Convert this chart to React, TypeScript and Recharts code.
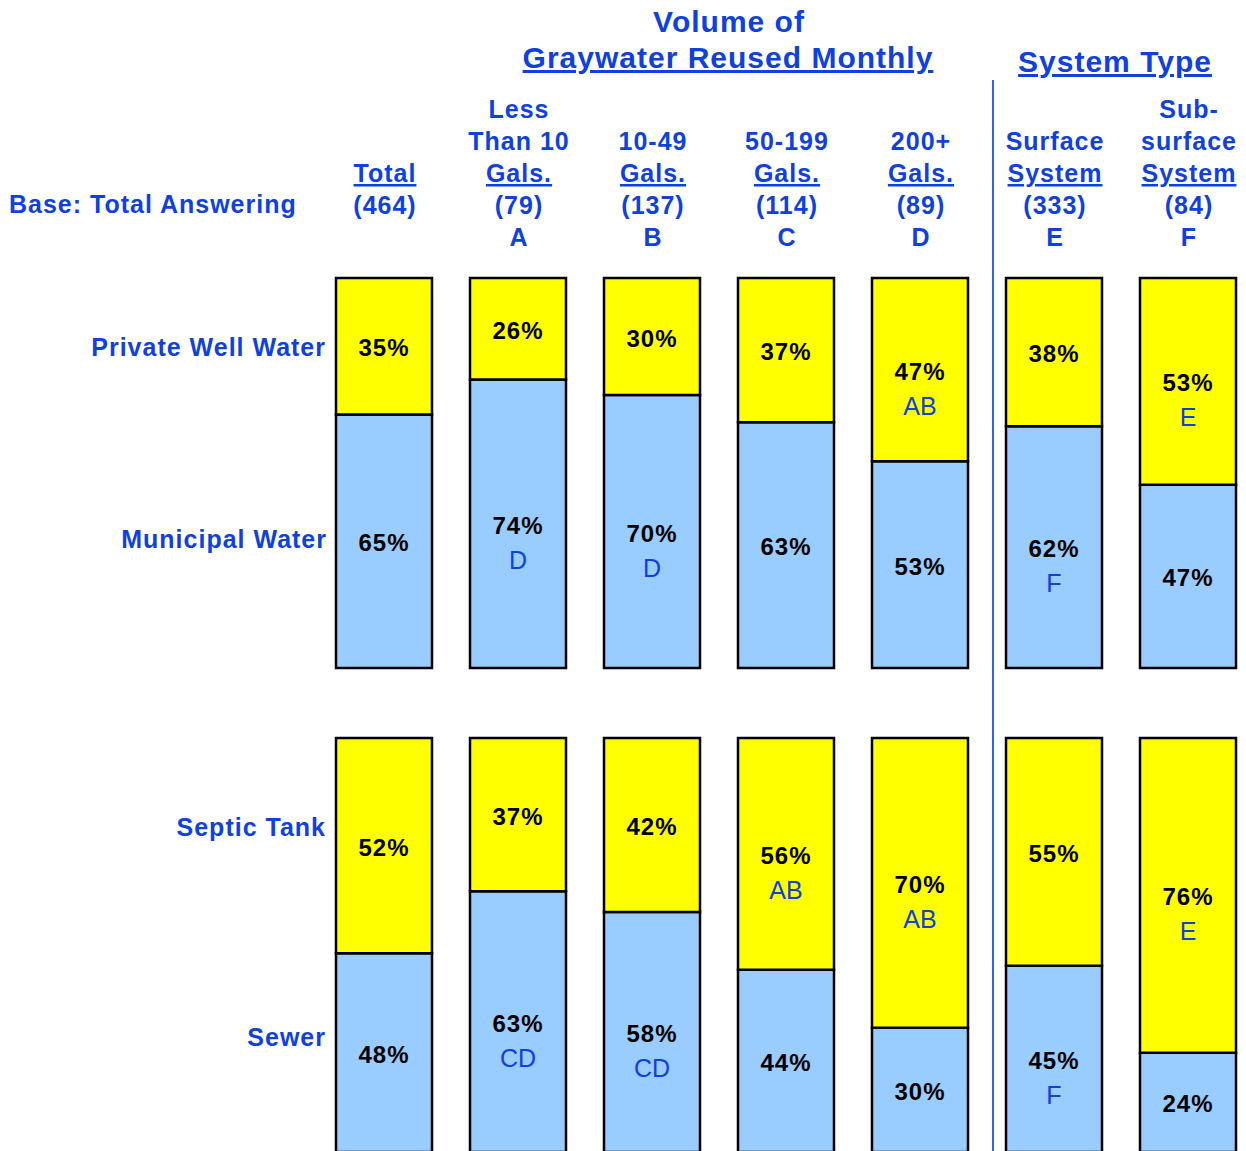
import { BarChart, Bar, XAxis, YAxis, LabelList } from "recharts"

const FONT = '"Liberation Sans", Arial, sans-serif'
const BLUE = "#0F40E0"
const LINE_BLUE = "#2F62EE"

// columns: total, volume groups A-D, system types E-F
const columns = ["Total", "A", "B", "C", "D", "E", "F"]
const headNames = [
  ["Total"],
  ["Less", "Than 10", "Gals."],
  ["10-49", "Gals."],
  ["50-199", "Gals."],
  ["200+", "Gals."],
  ["Surface", "System"],
  ["Sub-", "surface", "System"],
]
const bases = [464, 79, 137, 114, 89, 333, 84]
const colLetters = ["", "A", "B", "C", "D", "E", "F"]

// water source
const well = [35, 26, 30, 37, 47, 38, 53]
const municipal = [65, 74, 70, 63, 53, 62, 47]
const wellSig = ["", "", "", "", "AB", "", "E"]
const municipalSig = ["", "D", "D", "", "", "F", ""]

// waste disposal
const septic = [52, 37, 42, 56, 70, 55, 76]
const sewer = [48, 63, 58, 44, 30, 45, 24]
const septicSig = ["", "", "", "AB", "AB", "", "E"]
const sewerSig = ["", "CD", "CD", "", "", "F", ""]

const topData = columns.map((key, i) => ({ key, well: well[i], municipal: municipal[i] }))
const bottomData = columns.map((key, i) => ({ key, septic: septic[i], sewer: sewer[i] }))

const YELLOW = "#FFFF00"
const LIGHT_BLUE = "#99CCFF"

const blueBold = {
  fontFamily: FONT,
  fontWeight: 700,
  fontSize: 25,
  letterSpacing: 1,
  fill: BLUE,
}

function HeaderTick(props: any) {
  const { x, payload } = props
  const i = columns.indexOf(payload.value)
  const names = headNames[i]
  const cx = Number(x) + 1
  return (
    <g>
      {names.map((n, k) => (
        <text
          key={k}
          x={cx}
          y={182 - (names.length - 1 - k) * 32}
          textAnchor="middle"
          {...blueBold}
          style={{ textDecoration: k === names.length - 1 ? "underline" : "none" }}
        >
          {n}
        </text>
      ))}
      <text x={cx} y={214} textAnchor="middle" {...blueBold}>
        ({bases[i]})
      </text>
      {colLetters[i] && (
        <text x={cx} y={246} textAnchor="middle" {...blueBold}>
          {colLetters[i]}
        </text>
      )}
    </g>
  )
}

const segLabel = (sig: string[]) => (p: any) => {
  const { x, y, width, height, value, index } = p
  const cx = Number(x) + Number(width) / 2
  const cy = Number(y) + Number(height) / 2
  const s = sig[index]
  return (
    <g>
      <text
        x={cx}
        y={cy + 10}
        textAnchor="middle"
        fontFamily={FONT}
        fontWeight={700}
        fontSize={24}
        letterSpacing={1}
        fill="#000"
      >
        {value}%
      </text>
      {s && (
        <text x={cx} y={cy + 45} textAnchor="middle" fontFamily={FONT} fontSize={25} fill={BLUE}>
          {s}
        </text>
      )}
    </g>
  )
}

export default function App() {
  return (
    <div
      style={{
        position: "fixed",
        top: 0,
        left: 0,
        width: 1246,
        height: 1151,
        overflow: "hidden",
        background: "#fff",
        fontFamily: FONT,
      }}
    >
      <div style={{ position: "absolute", top: 0, left: 0 }}>
        <BarChart
          width={1255}
          height={670}
          data={topData}
          margin={{ top: 248, right: 0, bottom: 2, left: 317 }}
        >
          <XAxis
            dataKey="key"
            orientation="top"
            height={30}
            axisLine={false}
            tickLine={false}
            tick={<HeaderTick />}
            interval={0}
          />
          <YAxis hide domain={[0, 100]} />
          <Bar dataKey="municipal" stackId="a" fill={LIGHT_BLUE} stroke="#000" strokeWidth={2.5} barSize={96} isAnimationActive={false}>
            <LabelList dataKey="municipal" content={segLabel(municipalSig)} />
          </Bar>
          <Bar dataKey="well" stackId="a" fill={YELLOW} stroke="#000" strokeWidth={2.5} barSize={96} isAnimationActive={false}>
            <LabelList dataKey="well" content={segLabel(wellSig)} />
          </Bar>
        </BarChart>
      </div>

      <div style={{ position: "absolute", top: 700, left: 0 }}>
        <BarChart
          width={1255}
          height={452}
          data={bottomData}
          margin={{ top: 38, right: 0, bottom: 0, left: 317 }}
        >
          <XAxis dataKey="key" hide />
          <YAxis hide domain={[0, 100]} />
          <Bar dataKey="sewer" stackId="b" fill={LIGHT_BLUE} stroke="#000" strokeWidth={2.5} barSize={96} isAnimationActive={false}>
            <LabelList dataKey="sewer" content={segLabel(sewerSig)} />
          </Bar>
          <Bar dataKey="septic" stackId="b" fill={YELLOW} stroke="#000" strokeWidth={2.5} barSize={96} isAnimationActive={false}>
            <LabelList dataKey="septic" content={segLabel(septicSig)} />
          </Bar>
        </BarChart>
      </div>

      <svg
        width={1246}
        height={1151}
        style={{ position: "absolute", top: 0, left: 0, pointerEvents: "none" }}
      >
        <text x={729} y={32} textAnchor="middle" fontFamily={FONT} fontWeight={700} fontSize={30} letterSpacing={1} fill={BLUE}>
          Volume of
        </text>
        <text
          x={728}
          y={68}
          textAnchor="middle"
          fontFamily={FONT}
          fontWeight={700}
          fontSize={30}
          letterSpacing={1}
          fill={BLUE}
          style={{ textDecoration: "underline" }}
        >
          Graywater Reused Monthly
        </text>
        <text
          x={1115}
          y={72}
          textAnchor="middle"
          fontFamily={FONT}
          fontWeight={700}
          fontSize={30}
          letterSpacing={1}
          fill={BLUE}
          style={{ textDecoration: "underline" }}
        >
          System Type
        </text>
        <text x={9} y={213} {...blueBold}>
          Base: Total Answering
        </text>
        <text x={326} y={356} textAnchor="end" {...blueBold}>Private Well Water</text>
        <text x={327} y={548} textAnchor="end" {...blueBold}>Municipal Water</text>
        <text x={326} y={836} textAnchor="end" {...blueBold}>Septic Tank</text>
        <text x={326} y={1046} textAnchor="end" {...blueBold}>Sewer</text>
        <line x1={993} y1={80} x2={993} y2={1151} stroke={LINE_BLUE} strokeWidth={2} />
      </svg>
    </div>
  )
}
